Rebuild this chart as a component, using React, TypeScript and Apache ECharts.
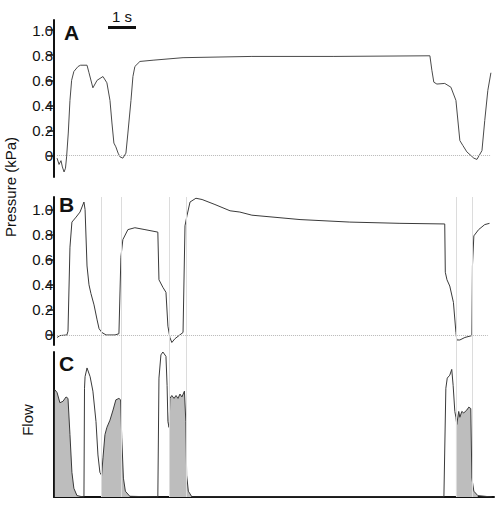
import { useEffect, useRef } from "react";
import * as echarts from "echarts";

// time in seconds, pressure in kPa
const pressureA: [number, number][] = [
  [0.11, -0.02], [0.18, -0.07], [0.25, -0.04], [0.3, -0.09], [0.36, -0.13], [0.41, -0.1],
  [0.45, -0.01], [0.51, 0.18], [0.57, 0.44], [0.63, 0.6], [0.71, 0.67], [0.86, 0.71],
  [0.95, 0.72], [1.18, 0.72], [1.25, 0.66], [1.39, 0.54], [1.54, 0.6], [1.75, 0.63],
  [1.89, 0.58], [2.0, 0.44], [2.07, 0.26], [2.14, 0.1], [2.21, 0.07], [2.29, 0.02],
  [2.36, -0.01], [2.46, -0.02], [2.57, 0.02], [2.64, 0.18], [2.75, 0.44], [2.82, 0.63],
  [2.89, 0.71], [3.07, 0.75], [3.54, 0.76], [4.61, 0.78], [7.07, 0.79], [10.0, 0.79],
  [13.43, 0.795], [13.5, 0.68], [13.57, 0.585], [13.68, 0.57], [13.96, 0.575], [14.18, 0.545],
  [14.36, 0.44], [14.5, 0.12], [14.61, 0.08], [14.75, 0.03], [15.0, -0.02], [15.11, -0.03],
  [15.29, 0.04], [15.39, 0.28], [15.5, 0.52], [15.61, 0.66],
];

const pressureB: [number, number][] = [
  [0.11, -0.02], [0.21, -0.005], [0.46, 0.0], [0.5, 0.03], [0.57, 0.7], [0.64, 0.9],
  [0.79, 0.94], [0.93, 0.98], [1.07, 1.06], [1.11, 1.0], [1.18, 0.55], [1.25, 0.4],
  [1.32, 0.33], [1.43, 0.24], [1.54, 0.12], [1.61, 0.05], [1.71, 0.02], [1.86, 0.0],
  [2.18, 0.0], [2.32, 0.01], [2.39, 0.62], [2.46, 0.76], [2.64, 0.84], [2.89, 0.855],
  [3.25, 0.84], [3.71, 0.82], [3.75, 0.44], [3.89, 0.38], [4.0, 0.34], [4.07, 0.07],
  [4.14, -0.02], [4.21, -0.06], [4.32, -0.03], [4.61, 0.02], [4.68, 0.87], [4.75, 0.95],
  [4.86, 1.06], [5.07, 1.09], [5.29, 1.08], [5.75, 1.04], [6.29, 0.99], [6.64, 0.98],
  [7.07, 0.955], [8.79, 0.92], [10.57, 0.9], [12.36, 0.89], [13.96, 0.885], [13.98, 0.5],
  [14.04, 0.44], [14.14, 0.39], [14.27, 0.26], [14.36, 0.02], [14.39, -0.04], [14.5, -0.04],
  [14.68, -0.02], [14.93, -0.005], [14.95, 0.55], [15.0, 0.79], [15.17, 0.84], [15.39, 0.88],
  [15.56, 0.89],
];

// flow in arbitrary units (0..1)
const flow: [number, number][] = [
  [0.03, 0.74], [0.11, 0.72], [0.21, 0.65], [0.32, 0.66], [0.43, 0.69], [0.5, 0.68],
  [0.57, 0.43], [0.64, 0.17], [0.71, 0.06], [0.82, 0.01], [1.04, 0.0], [1.07, 0.0],
  [1.09, 0.75], [1.11, 0.83], [1.18, 0.89], [1.29, 0.83], [1.39, 0.73], [1.5, 0.52],
  [1.57, 0.29], [1.64, 0.17], [1.7, 0.15], [1.75, 0.27], [1.82, 0.43], [1.89, 0.48],
  [2.0, 0.53], [2.11, 0.6], [2.21, 0.67], [2.32, 0.68], [2.38, 0.67], [2.42, 0.41],
  [2.48, 0.13], [2.55, 0.04], [2.71, 0.005], [3.71, 0.0], [3.75, 0.82], [3.82, 0.98],
  [3.89, 1.0], [4.0, 0.97], [4.04, 0.77], [4.07, 0.52], [4.11, 0.48], [4.14, 0.68],
  [4.21, 0.7], [4.29, 0.68], [4.36, 0.7], [4.43, 0.68], [4.5, 0.71], [4.57, 0.69],
  [4.66, 0.73], [4.71, 0.52], [4.74, 0.15], [4.8, 0.04], [4.93, 0.0], [13.93, 0.0],
  [14.0, 0.75], [14.05, 0.82], [14.14, 0.84], [14.21, 0.88], [14.26, 0.77], [14.32, 0.59],
  [14.36, 0.55], [14.39, 0.5], [14.46, 0.59], [14.5, 0.55], [14.57, 0.59], [14.64, 0.58],
  [14.75, 0.6], [14.82, 0.62], [14.89, 0.61], [14.93, 0.13], [15.0, 0.04], [15.14, 0.01],
  [15.64, 0.0],
];

const grayIntervals: [number, number][] = [
  [0, 1.04], [1.7, 2.75], [4.11, 4.95], [14.36, 15.2],
];
const phaseLines = [1.7, 2.42, 4.11, 4.71, 14.36, 14.95];
const pressureTicks = [0, 0.2, 0.4, 0.6, 0.8, 1.0];
const zeroLineSpanA: [number, number] = [0.11, 15.61];
const zeroLineSpanB: [number, number] = [0.11, 15.5];
const scaleBar: [number, number] = [1.93, 2.93];
const scaleBarLevel = 1.024;
const scaleBarLabel = "1 s";
const panelLabels = ["A", "B", "C"];
const yNamePressure = "Pressure (kPa)";
const yNameFlow = "Flow";

const T_MAX = 15.72;

export default function App() {
  const ref = useRef<HTMLDivElement>(null);

  useEffect(() => {
    const chart = echarts.init(ref.current!, null, { renderer: "svg" });
    const font = "Liberation Sans";
    const ink = "#111";
    const trace = "#3a3a3a";

    const xAxis = (gridIndex: number, showLine: boolean) => ({
      type: "value",
      gridIndex,
      min: 0,
      max: T_MAX,
      axisLine: { show: showLine, onZero: false, lineStyle: { color: ink, width: 2 } },
      axisTick: { show: false },
      axisLabel: { show: false },
      splitLine: { show: false },
    });

    const pressureY = (gridIndex: number, min: number, max: number) => ({
      type: "value",
      gridIndex,
      min,
      max,
      position: "left",
      axisLine: { show: true, onZero: false, lineStyle: { color: ink, width: 2 } },
      axisTick: {
        show: true,
        length: 7,
        customValues: pressureTicks,
        lineStyle: { color: ink, width: 1.5 },
      },
      axisLabel: {
        show: true,
        customValues: pressureTicks,
        margin: 1,
        fontSize: 15,
        color: ink,
        fontFamily: font,
        formatter: (v: number) => (v === 0 ? "0" : v.toFixed(1)),
      },
      splitLine: { show: false },
    });

    const grayAreas = grayIntervals.map(([a, b]) => ({
      type: "line",
      xAxisIndex: 2,
      yAxisIndex: 2,
      data: flow.filter(([t]) => t >= a && t <= b),
      showSymbol: false,
      symbol: "none",
      lineStyle: { width: 0, opacity: 0 },
      areaStyle: { color: "#bdbdbd", opacity: 1 },
      z: 2,
      silent: true,
    }));

    const option: any = {
      animation: false,
      textStyle: { fontFamily: font, fontSize: 15, color: ink },
      grid: [
        { left: 54, width: 440, top: 20, height: 157 },
        { left: 54, width: 440, top: 197, height: 148 },
        { left: 54, width: 440, top: 352, height: 145 },
        { left: 54, width: 440, top: 197, height: 300 },
      ],
      xAxis: [xAxis(0, false), xAxis(1, false), xAxis(2, true), { ...xAxis(3, false), show: false }],
      yAxis: [
        pressureY(0, -0.17, 1.08),
        pressureY(1, -0.08, 1.1),
        {
          type: "value",
          gridIndex: 2,
          min: 0,
          max: 1,
          axisLine: { show: true, onZero: false, lineStyle: { color: ink, width: 2 } },
          axisTick: { show: false },
          axisLabel: { show: false },
          splitLine: { show: false },
        },
        { type: "value", gridIndex: 3, min: 0, max: 1, show: false },
      ],
      series: [
        {
          type: "line",
          xAxisIndex: 3,
          yAxisIndex: 3,
          data: [],
          silent: true,
          markLine: {
            silent: true,
            symbol: "none",
            label: { show: false },
            lineStyle: { color: "#dcdcdc", width: 1, type: "solid" },
            data: phaseLines.map((t) => ({ xAxis: t })),
          },
          z: 1,
        },
        {
          type: "line",
          xAxisIndex: 0,
          yAxisIndex: 0,
          data: pressureA,
          showSymbol: false,
          symbol: "none",
          lineStyle: { color: "#4a4a4a", width: 1 },
          z: 3,
          markLine: {
            silent: true,
            symbol: "none",
            data: [
              [
                {
                  coord: [zeroLineSpanA[0], 0],
                  lineStyle: { color: "#b8b8b8", width: 1, type: "dotted" },
                  label: { show: false },
                },
                { coord: [zeroLineSpanA[1], 0] },
              ],
              [
                {
                  coord: [scaleBar[0], scaleBarLevel],
                  lineStyle: { color: ink, width: 3, type: "solid" },
                  label: {
                    show: true,
                    position: "middle",
                    formatter: scaleBarLabel,
                    fontSize: 15,
                    color: ink,
                    fontFamily: font,
                    distance: 3,
                  },
                },
                { coord: [scaleBar[1], scaleBarLevel] },
              ],
            ],
          },
        },
        {
          type: "line",
          xAxisIndex: 1,
          yAxisIndex: 1,
          data: pressureB,
          showSymbol: false,
          symbol: "none",
          lineStyle: { color: trace, width: 1 },
          z: 3,
          markLine: {
            silent: true,
            symbol: "none",
            label: { show: false },
            lineStyle: { color: "#b8b8b8", width: 1, type: "dotted" },
            data: [[{ coord: [zeroLineSpanB[0], 0] }, { coord: [zeroLineSpanB[1], 0] }]],
          },
        },
        ...grayAreas,
        {
          type: "line",
          xAxisIndex: 2,
          yAxisIndex: 2,
          data: flow,
          showSymbol: false,
          symbol: "none",
          lineStyle: { color: trace, width: 1 },
          z: 3,
        },
      ],
      graphic: [
        {
          type: "text",
          left: 64,
          top: 22,
          style: { text: panelLabels[0], fontSize: 21, fontWeight: "bold", fontFamily: font, fill: ink },
        },
        {
          type: "text",
          left: 59,
          top: 194,
          style: { text: panelLabels[1], fontSize: 21, fontWeight: "bold", fontFamily: font, fill: ink },
        },
        {
          type: "text",
          left: 59,
          top: 353,
          style: { text: panelLabels[2], fontSize: 21, fontWeight: "bold", fontFamily: font, fill: ink },
        },
        {
          type: "text",
          x: 10,
          y: 187,
          rotation: Math.PI / 2,
          style: {
            text: yNamePressure,
            fontSize: 15,
            fontFamily: font,
            fill: ink,
            align: "center",
            verticalAlign: "middle",
          },
        },
        {
          type: "text",
          x: 27,
          y: 420,
          rotation: Math.PI / 2,
          style: {
            text: yNameFlow,
            fontSize: 15,
            fontFamily: font,
            fill: ink,
            align: "center",
            verticalAlign: "middle",
          },
        },
      ],
    };

    chart.setOption(option);
    return () => chart.dispose();
  }, []);

  return (
    <div
      ref={ref}
      style={{ position: "fixed", left: 0, top: 0, width: 504, height: 510, background: "#fff" }}
    />
  );
}
